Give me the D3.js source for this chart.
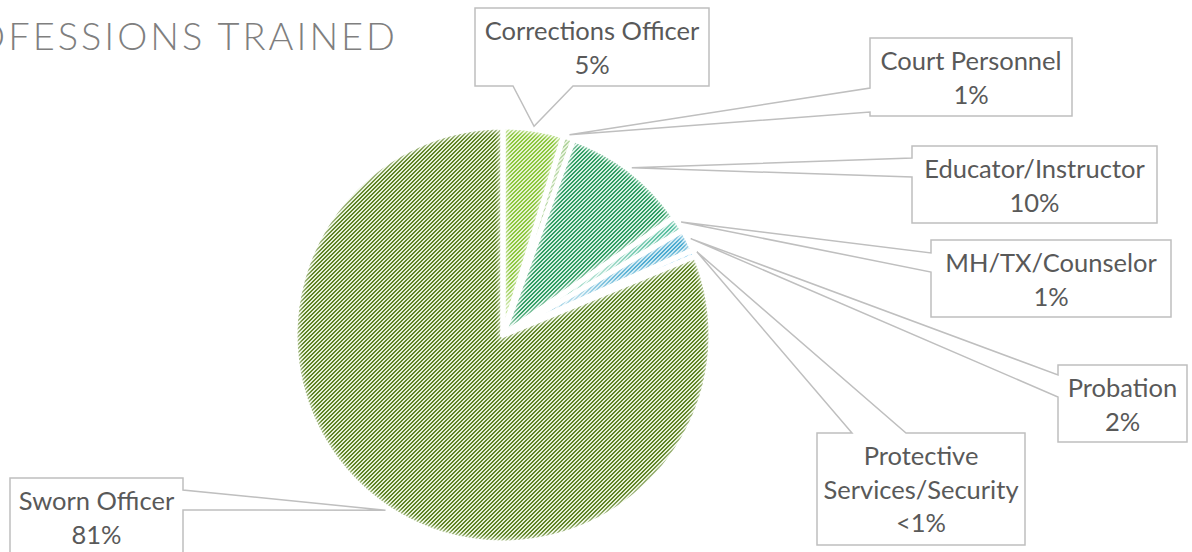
<!DOCTYPE html>
<html>
<head>
<meta charset="utf-8">
<script src="https://cdn.jsdelivr.net/npm/d3@7"></script>
<style>
  html, body { margin: 0; padding: 0; background: #fff; overflow: hidden; }
  svg { display: block; }
</style>
</head>
<body>
<svg id="chart"></svg>
<script>
const categories = [
  "Corrections Officer",
  "Court Personnel",
  "Educator/Instructor",
  "MH/TX/Counselor",
  "Probation",
  "Protective Services/Security",
  "Sworn Officer"
];
const values = [4.7, 0.8, 9.9, 1.2, 1.7, 0.5, 81.2];
const pctLabels = ["5%", "1%", "10%", "1%", "2%", "<1%", "81%"];
const nameLines = [
  ["Corrections Officer"],
  ["Court Personnel"],
  ["Educator/Instructor"],
  ["MH/TX/Counselor"],
  ["Probation"],
  ["Protective", "Services/Security"],
  ["Sworn Officer"]
];
const bgColors = ["#e6f4cf", "#d2e8bc", "#d5f0e3", "#cdefe5", "#c4e5f1", "#d4edfb", "#e5f1d6"];
const fgColors = ["#8cc63e", "#62a83c", "#2f9c62", "#3cb38f", "#46a8cf", "#45b4ee", "#5e8224"];

const width = 1192;
const height = 552;
const cx = 503, cy = 335, radius = 208;

// callout boxes (x, y, w, h, side where the pointer leaves, a/c = pointer base along that side)
const boxes = [
  { x: 475, y: 8, w: 234, h: 78, side: "bottom", a: 38, c: 98 },
  { x: 870, y: 38, w: 202, h: 78, side: "left", a: 50, c: 74 },
  { x: 912, y: 146, w: 245, h: 77, side: "left", a: 12, c: 31 },
  { x: 931, y: 240, w: 240, h: 77, side: "left", a: 13, c: 32 },
  { x: 1058, y: 365, w: 129, h: 77, side: "left", a: 10, c: 32 },
  { x: 817, y: 433, w: 208, h: 112, side: "top", a: 35, c: 89 },
  { x: 10, y: 478, w: 173, h: 110, side: "right", a: 12, c: 32 }
];

const svg = d3.select("#chart").attr("width", width).attr("height", height);
const defs = svg.append("defs");

// diagonal hatch patterns, one per slice
categories.forEach((c, i) => {
  const p = defs.append("pattern")
    .attr("id", "hatch" + i)
    .attr("patternUnits", "userSpaceOnUse")
    .attr("width", 4)
    .attr("height", 4);
  p.append("rect").attr("width", 4).attr("height", 4).attr("fill", bgColors[i]);
  for (let r = 0; r < 4; r++) {
    p.append("rect")
      .attr("x", 3 - r).attr("y", r)
      .attr("width", 1).attr("height", 1)
      .attr("fill", fgColors[i]);
    p.append("rect")
      .attr("x", (4 - r) % 4).attr("y", r)
      .attr("width", 1).attr("height", 1)
      .attr("fill", fgColors[i]);
  }
});

// soft inner glow along slice edges
const blur = defs.append("filter")
  .attr("id", "soft")
  .attr("x", "-20%").attr("y", "-20%")
  .attr("width", "140%").attr("height", "140%");
blur.append("feGaussianBlur").attr("stdDeviation", 2);

// title (partly off the left edge, as in the original)
svg.append("text")
  .attr("x", 398)
  .attr("y", 50)
  .attr("text-anchor", "end")
  .attr("font-family", "Lato, 'Open Sans', sans-serif")
  .attr("font-weight", 300)
  .attr("font-size", 38)
  .attr("letter-spacing", 3)
  .attr("fill", "#7f7f7f")
  .text("PROFESSIONS TRAINED");

const pie = d3.pie().sort(null).value((d) => d);
const arcs = pie(values);
const arc = d3.arc().innerRadius(0).outerRadius(radius);
const tipArc = d3.arc().innerRadius(radius + 3).outerRadius(radius + 3);

const g = svg.append("g").attr("transform", `translate(${cx},${cy})`);

arcs.forEach((d, i) => {
  defs.append("clipPath")
    .attr("id", "clip" + i)
    .append("path")
    .attr("d", arc(d));
});

g.selectAll("path.slice")
  .data(arcs)
  .join("path")
  .attr("class", "slice")
  .attr("d", arc)
  .attr("fill", (d, i) => `url(#hatch${i})`);

g.selectAll("g.glow")
  .data(arcs)
  .join("g")
  .attr("class", "glow")
  .attr("clip-path", (d, i) => `url(#clip${i})`)
  .append("path")
  .attr("d", arc)
  .attr("fill", "none")
  .attr("stroke", "#fff")
  .attr("stroke-width", 9)
  .attr("stroke-opacity", 0.6)
  .attr("filter", "url(#soft)");

g.selectAll("path.edge")
  .data(arcs)
  .join("path")
  .attr("class", "edge")
  .attr("d", arc)
  .attr("fill", "none")
  .attr("stroke", "#fff")
  .attr("stroke-width", 5)
  .attr("stroke-linejoin", "round");

function calloutPath(b, tip) {
  const { x, y, w, h, side, a, c } = b;
  const t = `L${tip[0]},${tip[1]}`;
  let s = `M${x},${y}`;
  if (side === "top") s += `L${x + a},${y}${t}L${x + c},${y}`;
  s += `L${x + w},${y}`;
  if (side === "right") s += `L${x + w},${y + a}${t}L${x + w},${y + c}`;
  s += `L${x + w},${y + h}`;
  if (side === "bottom") s += `L${x + c},${y + h}${t}L${x + a},${y + h}`;
  s += `L${x},${y + h}`;
  if (side === "left") s += `L${x},${y + c}${t}L${x},${y + a}`;
  return s + "Z";
}

const labels = svg.append("g");

arcs.forEach((d, i) => {
  const b = boxes[i];
  const p = tipArc.centroid(d);
  const tip = [p[0] + cx, p[1] + cy];

  labels.append("path")
    .attr("d", calloutPath(b, tip))
    .attr("fill", "#fff")
    .attr("stroke", "#bfbfbf")
    .attr("stroke-width", 1.5)
    .attr("stroke-linejoin", "miter");

  const lines = nameLines[i].concat([pctLabels[i]]);
  lines.forEach((ln, k) => {
    labels.append("text")
      .attr("x", b.x + b.w / 2)
      .attr("y", b.y + 23 + 33.5 * k + 9)
      .attr("text-anchor", "middle")
      .attr("font-family", "Lato, 'Open Sans', sans-serif")
      .attr("font-size", 25.5)
      .attr("fill", "#595959")
      .text(ln);
  });
});
</script>
</body>
</html>
